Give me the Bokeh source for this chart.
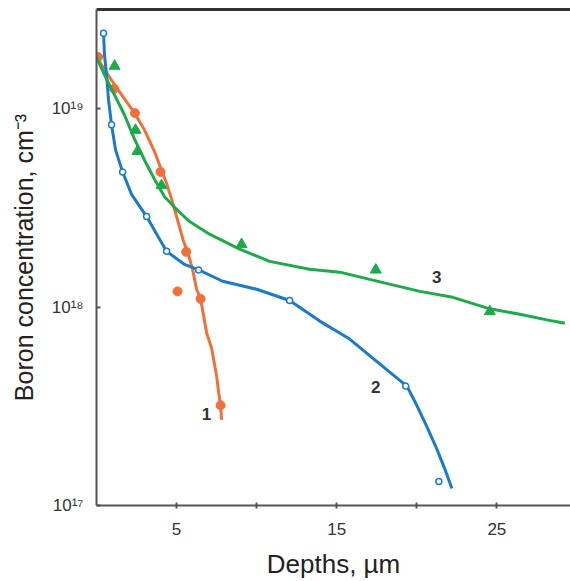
from bokeh.plotting import figure
from bokeh.models import Range1d, FixedTicker, LinearAxis
from bokeh.core.properties import value
from bokeh.embed import file_html
from bokeh.resources import INLINE

# ---- data (depth in µm, boron concentration in cm^-3) ----
c1_line_x = [0.0, 0.5, 1.13, 1.75, 2.38, 3.0, 3.31, 3.69, 4.06, 4.38, 4.69, 5.06, 5.44, 5.69,
             6.0, 6.25, 6.5, 6.88, 7.19, 7.5, 7.63, 7.75, 7.81]
c1_line_y = [1.82e19, 1.58e19, 1.32e19, 1.12e19, 9.5e18, 7.8e18, 6.9e18, 5.9e18, 4.9e18, 4.2e18,
             3.5e18, 2.75e18, 2.14e18, 1.9e18, 1.55e18, 1.23e18, 1.10e18, 7.4e17, 6.2e17, 4.5e17,
             3.7e17, 3.2e17, 2.7e17]
c1_pts_x = [0.1, 1.1, 2.4, 4.0, 5.6, 5.06, 6.5, 7.75]
c1_pts_y = [1.82e19, 1.26e19, 9.5e18, 4.8e18, 1.9e18, 1.2e18, 1.1e18, 3.2e17]

c2_line_x = [0.44, 0.5, 0.63, 0.75, 0.94, 1.19, 1.63, 2.19, 3.13, 3.94, 4.38, 5.5, 6.38, 7.88,
             10.0, 12.06, 13.94, 15.81, 17.06, 18.31, 19.38, 20.0, 20.63, 21.25, 21.75, 22.19]
c2_line_y = [2.40e19, 1.86e19, 1.48e19, 1.11e19, 8.3e18, 6.2e18, 4.8e18, 3.7e18, 2.86e18, 2.2e18,
             1.91e18, 1.64e18, 1.54e18, 1.35e18, 1.23e18, 1.08e18, 8.5e17, 6.9e17, 5.7e17, 4.7e17,
             4.0e17, 3.2e17, 2.5e17, 1.93e17, 1.53e17, 1.22e17]
c2_pts_x = [0.44, 0.94, 1.63, 3.13, 4.38, 6.38, 12.06, 19.31, 21.38]
c2_pts_y = [2.4e19, 8.3e18, 4.8e18, 2.86e18, 1.91e18, 1.54e18, 1.08e18, 4.0e17, 1.32e17]

c3_line_x = [0.0, 0.5, 1.13, 1.75, 2.38, 3.0, 3.63, 4.25, 5.19, 5.81, 7.06, 8.94, 10.81, 13.31,
             15.19, 17.06, 20.19, 22.25, 24.56, 26.44, 28.5, 29.25]
c3_line_y = [1.82e19, 1.48e19, 1.17e19, 9.3e18, 7.0e18, 5.5e18, 4.4e18, 3.6e18, 3.0e18, 2.7e18,
             2.33e18, 1.96e18, 1.70e18, 1.55e18, 1.50e18, 1.38e18, 1.20e18, 1.12e18, 9.8e17,
             9.2e17, 8.5e17, 8.3e17]
c3_pts_x = [1.13, 2.44, 2.56, 4.06, 9.06, 17.44, 24.56]
c3_pts_y = [1.64e19, 7.8e18, 6.1e18, 4.1e18, 2.07e18, 1.54e18, 9.5e17]

curve_labels = ["1", "2", "3"]
curve_label_x = [6.875, 17.44, 21.25]
curve_label_y = [2.9e17, 3.96e17, 1.42e18]

x_ticks = [5, 10, 15, 20, 25]
x_tick_labels = {10: "", 20: ""}
y_ticks = [10**17, 10**18, 10**19]
y_tick_labels = ["10¹⁷", "10¹⁸", "10¹⁹"]

ORANGE = "#F0703C"
BLUE = "#1C7BC9"
GREEN = "#1DAA4B"
FONT = "Liberation Sans"

p = figure(width=570, height=581, output_backend="svg", toolbar_location=None,
           y_axis_type="log",
           x_range=Range1d(0, 29.6), y_range=Range1d(1e17, 10**19.5),
           min_border_left=96, min_border_right=0, min_border_top=9, min_border_bottom=74)
p.outline_line_color = None
p.xgrid.visible = False
p.ygrid.visible = False
p.background_fill_color = "white"
p.border_fill_color = "white"

# axes
p.xaxis.ticker = FixedTicker(ticks=x_ticks, minor_ticks=[])
p.xaxis.major_label_overrides = x_tick_labels
p.yaxis.ticker = FixedTicker(ticks=y_ticks, minor_ticks=[])
p.yaxis.major_label_overrides = {t: s for t, s in zip(y_ticks, y_tick_labels)}

for ax in (p.xaxis[0], p.yaxis[0]):
    ax.axis_line_color = "#555555"
    ax.axis_line_width = 2
    ax.major_tick_line_color = "#555555"
    ax.major_tick_line_width = 2
    ax.minor_tick_line_color = None
    ax.major_label_text_font = FONT
    ax.major_label_text_font_size = "17px"
    ax.major_label_text_color = "#333333"
    ax.axis_label_text_font = FONT
    ax.axis_label_text_font_style = "normal"
    ax.axis_label_text_color = "#222222"

p.xaxis.axis_label = "Depths, µm"
p.xaxis.axis_label_text_font_size = "26px"
p.xaxis.major_tick_in = 3
p.xaxis.major_tick_out = 3
p.xaxis.major_label_standoff = 14
p.xaxis.axis_label_standoff = 11

p.yaxis.axis_label = "Boron concentration, cm⁻³"
p.yaxis.axis_label_text_font_size = "25px"
p.yaxis.major_tick_in = 4
p.yaxis.major_tick_out = 0
p.yaxis.major_label_standoff = 13
p.yaxis.axis_label_standoff = 11

# top border line
top_axis = LinearAxis(ticker=FixedTicker(ticks=[]), axis_line_color="#333333", axis_line_width=3,
                      major_tick_line_color=None, minor_tick_line_color=None,
                      major_label_text_font_size="0px")
p.add_layout(top_axis, "above")

# curves
p.line(c1_line_x, c1_line_y, line_color=ORANGE, line_width=3)
p.scatter(c1_pts_x, c1_pts_y, marker="circle", size=9, fill_color=ORANGE, line_color=ORANGE)

p.line(c2_line_x, c2_line_y, line_color=BLUE, line_width=3)
p.scatter(c2_pts_x, c2_pts_y, marker="circle", size=6, fill_color="white", line_color=BLUE, line_width=1.5)

p.line(c3_line_x, c3_line_y, line_color=GREEN, line_width=3)
p.scatter(c3_pts_x, c3_pts_y, marker="triangle", size=11, fill_color=GREEN, line_color=GREEN)

p.text(curve_label_x, curve_label_y, text=curve_labels, text_font=value(FONT),
       text_font_size="17px", text_color="#333333", text_align="center",
       text_baseline="middle", text_font_style="bold")

open("out.html", "w").write(file_html(p, INLINE))
